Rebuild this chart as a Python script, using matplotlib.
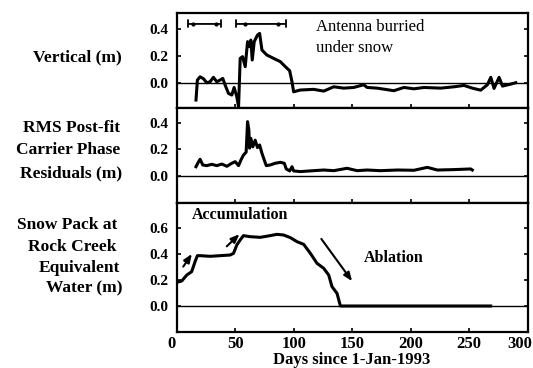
import matplotlib
matplotlib.use("Agg")
import matplotlib.pyplot as plt
from matplotlib.transforms import ScaledTranslation

plt.rcParams['font.family'] = ['Liberation Serif', 'DejaVu Serif']
plt.rcParams['font.weight'] = 'bold'

# ---- data ----
vert_days = [16.5, 17.7, 20, 22.8, 25.7, 28.5, 31.4, 34.3, 37.1, 39.4, 41.4, 44.3, 47.1, 49.1,
             51.4, 52.9, 54.3, 56.3, 58.6, 60.6, 62.3, 63.4, 64.6, 66.3, 69.1, 70.9, 72.9, 77.1,
             82.9, 88.6, 92.9, 96.6, 98.6, 100, 105.7, 117.1, 125.7, 134.3, 142.8, 151.4, 160,
             162.8, 171.4, 185.7, 194.3, 202.9, 211.4, 225.7, 237.2, 245.7, 252.8, 260, 265.7,
             268.6, 271.4, 275.7, 278.6, 285.7, 290]
vert_vals = [-0.128, 0.02, 0.044, 0.03, 0.0, 0.007, 0.04, 0.007, 0.02, 0.032, -0.017, -0.079,
             -0.091, -0.035, -0.104, -0.178, 0.18, 0.193, 0.119, 0.304, 0.267, 0.316, 0.168,
             0.304, 0.353, 0.365, 0.242, 0.205, 0.18, 0.156, 0.119, 0.089, 0.007, -0.067,
             -0.054, -0.049, -0.062, -0.03, -0.04, -0.035, -0.015, -0.035, -0.04, -0.059,
             -0.035, -0.045, -0.035, -0.04, -0.03, -0.02, -0.04, -0.055, -0.015, 0.04,
             -0.042, 0.04, -0.025, -0.01, 0.0]

rms_days = [16.5, 18, 20, 22.3, 25.7, 30, 34.3, 38.6, 42.9, 47.1, 50, 52.9, 54.9, 57.1, 59.4,
            60.6, 61.7, 62.3, 63.4, 65.1, 67.1, 69.1, 70.9, 72.9, 74.9, 76.6, 80, 84.3, 88.6,
            92, 93.7, 96.6, 98.6, 100, 105.7, 117.1, 125.7, 134.3, 145.7, 154.3, 162.8, 174.3,
            188.6, 202.9, 214.3, 222.9, 237.2, 251.4, 252.8]
rms_vals = [0.07, 0.096, 0.126, 0.083, 0.078, 0.088, 0.078, 0.09, 0.073, 0.096, 0.108, 0.078,
            0.12, 0.158, 0.18, 0.41, 0.347, 0.21, 0.284, 0.22, 0.27, 0.214, 0.234, 0.171, 0.12,
            0.078, 0.083, 0.096, 0.103, 0.096, 0.053, 0.038, 0.07, 0.038, 0.033, 0.04, 0.045,
            0.04, 0.058, 0.04, 0.045, 0.04, 0.045, 0.043, 0.065, 0.045, 0.048, 0.053, 0.045]

snow_days = [0, 4.3, 8.6, 12.8, 15.7, 17.7, 20, 28.6, 37.1, 45.7, 48.6, 51.4, 54.3, 57.1, 62.8,
             71.4, 80, 85.7, 91.4, 97.1, 102.8, 108.6, 114.3, 120, 125.7, 130, 132.8, 137.1,
             140, 157, 200, 240, 268.5]
snow_vals = [0.182, 0.192, 0.238, 0.264, 0.341, 0.387, 0.387, 0.382, 0.387, 0.392, 0.405,
             0.469, 0.508, 0.541, 0.533, 0.528, 0.541, 0.551, 0.546, 0.526, 0.495, 0.474,
             0.405, 0.328, 0.29, 0.238, 0.149, 0.097, 0.0, 0.0, 0.0, 0.0, 0.0]

x_ticks = [0, 50, 100, 150, 200, 250, 300]
y_ticks_top = [0.0, 0.2, 0.4]
y_ticks_snow = [0.0, 0.2, 0.4, 0.6]

W, H = 533, 368
fig = plt.figure(figsize=(W / 100, H / 100), dpi=100)

def px_axes(top, bottom):
    left, right = 176.7, 527.5
    return fig.add_axes([left / W, 1 - bottom / H, (right - left) / W, (bottom - top) / H])

ax1 = px_axes(13, 108)
ax2 = px_axes(108, 203)
ax3 = px_axes(203, 332)

lims = [(-0.187, 0.516), (-0.204, 0.513), (-0.2, 0.792)]
for ax, yl, yt in zip([ax1, ax2, ax3], lims, [y_ticks_top, y_ticks_top, y_ticks_snow]):
    ax.set_xlim(0, 300)
    ax.set_ylim(*yl)
    ax.set_xticks(x_ticks)
    ax.set_yticks(yt)
    ax.set_yticklabels([f"{v:.1f}" for v in yt], fontsize=11, fontweight='bold')
    ax.tick_params(direction='in', length=3, width=1.2, left=True, right=True, top=False,
                   bottom=True)
    ax.tick_params(axis='y', pad=6)
    for s in ax.spines.values():
        s.set_linewidth(1.6)
    ax.axhline(0, color='black', lw=1.0, zorder=1)

for ax in (ax1, ax2):
    ax.tick_params(labelbottom=False)

ax3.set_xticklabels([str(v) for v in x_ticks], fontsize=12, fontweight='bold')
ax3.tick_params(axis='x', pad=3)
ax3.set_xlabel("Days since 1-Jan-1993", fontsize=12, fontweight='bold', labelpad=0)
xl = ax3.get_xticklabels()
xl[0].set_transform(xl[0].get_transform() + ScaledTranslation(-5 / 100, 0, fig.dpi_scale_trans))
xl[-1].set_transform(xl[-1].get_transform() + ScaledTranslation(-8 / 100, 0, fig.dpi_scale_trans))

ax1.plot(vert_days, vert_vals, color='black', lw=2.2, zorder=3)
ax2.plot(rms_days, rms_vals, color='black', lw=2.2, zorder=3)
ax3.plot(snow_days, snow_vals, color='black', lw=2.2, zorder=3)

# bars showing antenna buried periods
for x0, x1 in [(7.5, 40), (48.6, 95.7)]:
    ax1.annotate('', xy=(x1, 0.435), xytext=(x0, 0.435),
                 arrowprops=dict(arrowstyle='|-|,widthA=0.25,widthB=0.25', lw=1.3, color='black'))
    ax1.plot([x0 + (x1 - x0) * 0.2, x0 + (x1 - x0) * 0.8], [0.435, 0.435], 'o', ms=2,
             color='black')

ax1.text(119, 0.385, "Antenna burried", fontsize=12, fontweight='normal', va='baseline',
         ha='left')
ax1.text(119, 0.23, "under snow", fontsize=12, fontweight='normal', va='baseline', ha='left')

# arrows in snow panel
for (x0, y0), (x1, y1) in [((4.3, 0.285), (14.3, 0.418)), ((41.1, 0.444), (55.4, 0.567)),
                           ((122.3, 0.533), (151.4, 0.174))]:
    ax3.annotate('', xy=(x1, y1), xytext=(x0, y0),
                 arrowprops=dict(arrowstyle='-|>,head_length=0.5,head_width=0.2', lw=1.5,
                                 color='black'))
ax3.text(12.8, 0.669, "Accumulation", fontsize=11.5, fontweight='bold', va='baseline', ha='left')
ax3.text(160, 0.336, "Ablation", fontsize=11.5, fontweight='bold', va='baseline', ha='left')

# left labels
def ftext(x, y, s):
    fig.text(x / W, 1 - y / H, s, ha='right', va='center', fontsize=12.5, fontweight='bold')

ftext(122, 57, "Vertical (m)")
ftext(120, 128, "RMS Post-fit")
ftext(120, 150, "Carrier Phase")
ftext(122, 173, "Residuals (m)")
ftext(117, 225, "Snow Pack at")
ftext(117, 247, "Rock Creek")
ftext(120, 268, "Equivalent")
ftext(122, 288, "Water (m)")

fig.savefig("out.png", dpi=100)
